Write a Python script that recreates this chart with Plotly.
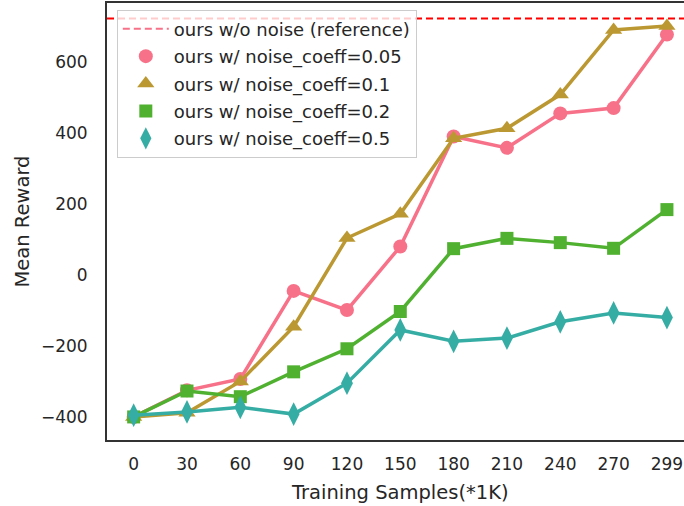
import plotly.graph_objects as go

# Training samples (thousands) used as categorical x positions
steps = ["0", "30", "60", "90", "120", "150", "180", "210", "240", "270", "299"]

# Mean reward per noise coefficient
reward_005 = [-400, -325, -293, -45, -99, 80, 390, 358, 455, 470, 677]
reward_01 = [-400, -388, -300, -146, 104, 172, 385, 413, 508, 690, 701]
reward_02 = [-400, -327, -343, -273, -208, -103, 74, 103, 91, 75, 184]
reward_05 = [-395, -386, -373, -392, -305, -155, -187, -178, -132, -107, -120]

# Reward of the noise-free run, drawn as a horizontal reference
reference_reward = 722

series_names = [
    "ours w/ noise_coeff=0.05",
    "ours w/ noise_coeff=0.1",
    "ours w/ noise_coeff=0.2",
    "ours w/ noise_coeff=0.5",
]
series_values = [reward_005, reward_01, reward_02, reward_05]
colors = ["#f77189", "#bb9832", "#50b131", "#36ada4"]
symbols = ["circle", "triangle-up", "square", "diamond-tall"]
marker_sizes = [14, 15, 13, 17]

FONT = "DejaVu Sans"
TEXT = "#262626"

fig = go.Figure()

# Legend-only entry for the reference line
fig.add_trace(go.Scatter(
    x=[None], y=[None], mode="lines",
    name="ours w/o noise (reference)",
    line=dict(color="#f77189", width=2, dash="7px,4px"),
    legendgroup="ref",
))

for name, vals, col, sym, ms in zip(series_names, series_values, colors, symbols, marker_sizes):
    fig.add_trace(go.Scatter(
        x=steps, y=vals, mode="lines+markers",
        line=dict(color=col, width=3.5),
        marker=dict(color=col, symbol=sym, size=ms, line=dict(width=0)),
        showlegend=False,
    ))
    # marker-only legend handle
    fig.add_trace(go.Scatter(
        x=[None], y=[None], mode="markers", name=name,
        marker=dict(color=col, symbol=sym, size=ms, line=dict(width=0)),
        legendgroup=name,
    ))

fig.add_hline(y=reference_reward, line=dict(color="red", width=2, dash="7px,4px"))

# x-axis title centred under the full category span
fig.add_annotation(
    text="Training Samples(*1K)", xref="paper", yref="paper",
    x=0.508, y=0, yshift=-52, xanchor="center", yanchor="middle",
    showarrow=False, font=dict(family=FONT, size=19.5, color=TEXT),
)

fig.update_layout(
    width=684, height=506,
    margin=dict(l=107, r=0, t=3, b=66),
    plot_bgcolor="white", paper_bgcolor="white",
    font=dict(family=FONT, size=17, color=TEXT),
    showlegend=True,
    legend=dict(
        x=0.017, y=0.985, xanchor="left", yanchor="top",
        bgcolor="rgba(255,255,255,0.8)",
        bordercolor="#cccccc", borderwidth=1,
        font=dict(family=FONT, size=18, color=TEXT),
        tracegroupgap=1,
        itemwidth=46,
    ),
)

fig.update_xaxes(
    type="category", categoryorder="array", categoryarray=steps,
    range=[-0.5, 10.32],
    showgrid=False, zeroline=False,
    showline=True, linecolor="#333333", linewidth=2, mirror=True,
    ticks="", ticklabelstandoff=8,
    tickfont=dict(family=FONT, size=17, color=TEXT),
)
fig.update_yaxes(
    range=[-465, 766],
    tickvals=[-400, -200, 0, 200, 400, 600],
    ticktext=["\u2212400", "\u2212200", "0", "200", "400", "600"],
    showgrid=False, zeroline=False,
    showline=True, linecolor="#333333", linewidth=2, mirror=False,
    ticks="", ticklabelstandoff=14,
    tickfont=dict(family=FONT, size=17, color=TEXT),
    title=dict(text="Mean Reward", font=dict(family=FONT, size=19.5, color=TEXT), standoff=6),
)

fig.write_html("out.html")
